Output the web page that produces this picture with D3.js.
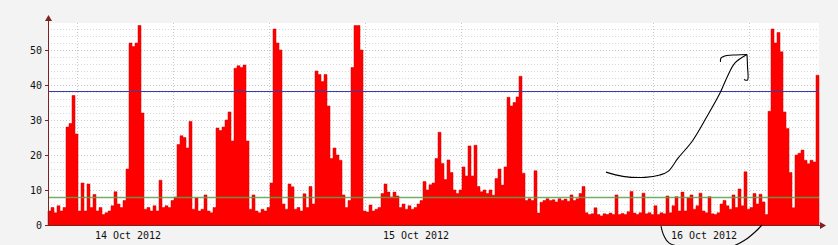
<!DOCTYPE html>
<html lang="en">
  <head>
    <meta charset="UTF-8" />
    <title>Load 14-16 Oct 2012</title>
    <script src="https://d3js.org/d3.v7.min.js"></script>
    <style>
      body { margin: 0; background: #f3f3f3; }
      text { font-family: "DejaVu Sans Mono", monospace; font-size: 10px; fill: #111; }
    </style>
  </head>
  <body>
    <div id="chart"></div>
    <script>
      // samples every 15 minutes starting 13 Oct 2012 17:20
      const startTime = new Date(2012, 9, 13, 17, 20);
      const stepMinutes = 15;
      const load = [
        4, 5, 3.5, 5.5, 4, 5, 28, 29, 37, 26,
        4, 12, 4, 11.7, 5, 8.7, 4, 5, 3, 3.5,
        4, 5.5, 9.5, 6, 5, 7, 16, 52, 51, 52,
        57, 32, 4.5, 5, 4, 5.5, 4, 12.8, 5, 5.5,
        5, 7, 8, 23, 25.5, 25, 22, 29.6, 4.5, 7.7,
        4, 4.5, 8.6, 4, 3.5, 5, 27.7, 27, 28, 30,
        32.3, 24, 44.8, 45.5, 45, 45.7, 24, 4.5, 8.6, 4,
        3.5, 4.5, 4, 5, 12, 56, 52, 50, 6, 4.5,
        11.7, 10.9, 4.5, 5, 4, 8.9, 5, 11, 6, 44,
        43, 41, 43, 34, 19, 22, 20, 18.5, 8.6, 5,
        7, 45, 57, 57, 50, 4, 3.7, 5.7, 4, 4.5,
        5, 9, 11.7, 9.4, 8, 9.4, 8.3, 5, 6, 4.5,
        5.5, 4.5, 5, 6, 7, 12.4, 10, 11.5, 12, 19,
        26.5, 17.6, 13, 18.6, 15, 10, 9, 10, 16.6, 14,
        22.6, 14, 22.8, 11, 9.5, 10, 9, 10, 8.5, 13.3,
        16, 11.4, 16.6, 36.5, 34, 35, 36.6, 42.5, 14.8, 7,
        7.5, 7, 15.5, 3.4, 6.5, 7, 7.5, 7, 7.2, 6.6,
        7.5, 7, 7.4, 6.8, 8.6, 7, 7.5, 9, 11, 3.5,
        3, 3.2, 4.9, 3, 2.6, 3.2, 3, 3.4, 3, 8.6,
        3, 3.3, 3, 3.8, 9.6, 3.4, 3, 3.5, 9.1, 3.2,
        3.5, 3, 5.5, 3, 3.5, 3.2, 8.3, 3.5, 5.5, 8.1,
        4, 9.4, 4, 7.7, 8.6, 4.5, 5.5, 9.1, 4, 3.5,
        8.1, 3.2, 3, 3.5, 6, 7, 5.5, 4.5, 8.6, 5,
        10.3, 5.5, 15.2, 4.5, 5, 9, 6, 8.8, 6.6, 3,
        32.5, 56, 52, 55, 49.5, 32.3, 27.6, 15, 4.9, 20,
        20.5, 21.4, 18.5, 17.5, 18.5, 18, 42.8,
      ];
      const warnLevel = 8.0;
      const critLevel = 38.2;
      const yTicks = [0, 10, 20, 30, 40, 50];
      const dayLabels = ["14 Oct 2012", "15 Oct 2012", "16 Oct 2012"];
      const dayDates = [
        new Date(2012, 9, 14),
        new Date(2012, 9, 15),
        new Date(2012, 9, 16),
      ];
      const firstGrid = new Date(2012, 9, 13, 19, 45);
      const gridHours = 8;

      // hand drawn marks, [hours after start, value]
      const scribbleArrow = [
        [46.5, 15.1], [47.9, 13.9], [49.75, 13.6], [51.0, 14.3], [51.7, 15.4],
        [52.5, 19.1], [53.7, 24.0], [54.9, 30.9], [56.0, 37.7], [56.6, 42.3],
        [57.25, 46.3], [58.25, 48.7],
      ];
      const scribbleHeadLeft = [
        [58.25, 48.7], [57.33, 48.57], [56.58, 48.43], [56.08, 47.7], [56.04, 46.6],
      ];
      const scribbleHeadDown = [
        [58.25, 48.7], [58.29, 45.4], [58.29, 41.4], [58.0, 41.6],
      ];
      const scribbleLoop = [
        [51.08, -0.3], [51.33, -3.1], [51.75, -5.1], [53.5, -6.6], [56.83, -6.3],
        [58.08, -4.3], [58.92, -2.0], [59.5, 0],
      ];

      const W = 838, H = 245;
      const plotLeft = 48, plotRight = 819, plotTop = 23, plotBottom = 225;

      const data = load.map((v, i) => ({
        t: new Date(startTime.getTime() + i * stepMinutes * 60000),
        v: v,
      }));
      const endTime = new Date(startTime.getTime() + load.length * stepMinutes * 60000);
      data.push({ t: endTime, v: load[load.length - 1] });

      const x = d3.scaleTime().domain([startTime, endTime]).range([plotLeft, plotRight]);
      const y = d3.scaleLinear().domain([0, 50]).range([plotBottom, 50]);
      const hx = (h) => x(new Date(startTime.getTime() + h * 3600000));

      const svg = d3
        .select("#chart")
        .append("svg")
        .attr("width", W)
        .attr("height", H);

      svg.append("rect").attr("width", W).attr("height", H).attr("fill", "#f3f3f3");
      svg
        .append("rect")
        .attr("x", plotLeft)
        .attr("y", plotTop)
        .attr("width", plotRight - plotLeft)
        .attr("height", plotBottom - plotTop)
        .attr("fill", "#ffffff");

      // horizontal grid every 2
      const yGrid = d3.range(2, y.invert(plotTop), 2);
      svg
        .append("g")
        .selectAll("line")
        .data(yGrid)
        .join("line")
        .attr("x1", plotLeft)
        .attr("x2", plotRight)
        .attr("y1", (d) => Math.round(y(d)) + 0.5)
        .attr("y2", (d) => Math.round(y(d)) + 0.5)
        .attr("stroke", (d) => (d % 10 === 0 ? "#c8c8c8" : "#d8d8d8"))
        .attr("stroke-dasharray", "1,2");

      // vertical grid every 8 hours
      const xGrid = d3
        .range(0, 9)
        .map((k) => new Date(firstGrid.getTime() + k * gridHours * 3600000))
        .filter((d) => d < endTime);
      svg
        .append("g")
        .selectAll("line")
        .data(xGrid)
        .join("line")
        .attr("x1", (d) => Math.round(x(d)) + 0.5)
        .attr("x2", (d) => Math.round(x(d)) + 0.5)
        .attr("y1", plotTop)
        .attr("y2", plotBottom)
        .attr("stroke", "#c8c8c8")
        .attr("stroke-dasharray", "1,2");

      const area = d3
        .area()
        .curve(d3.curveStepAfter)
        .x((d) => x(d.t))
        .y0(y(0))
        .y1((d) => y(d.v));

      svg
        .append("path")
        .datum(data)
        .attr("fill", "#ff0000")
        .attr("stroke", "#d80000")
        .attr("stroke-width", 0.5)
        .attr("d", area);

      svg
        .append("line")
        .attr("x1", plotLeft)
        .attr("x2", plotRight)
        .attr("y1", Math.round(y(warnLevel)) + 0.5)
        .attr("y2", Math.round(y(warnLevel)) + 0.5)
        .attr("stroke", "#5ca34c")
        .attr("stroke-opacity", 0.85)
        .attr("stroke-width", 1.5);

      svg
        .append("line")
        .attr("x1", plotLeft)
        .attr("x2", plotRight)
        .attr("y1", Math.round(y(critLevel)) + 0.5)
        .attr("y2", Math.round(y(critLevel)) + 0.5)
        .attr("stroke", "#3a3ab4")
        .attr("stroke-width", 1.2);

      // axes
      const axisColor = "#802020";
      svg
        .append("line")
        .attr("x1", plotLeft + 0.5)
        .attr("x2", plotLeft + 0.5)
        .attr("y1", plotBottom)
        .attr("y2", plotTop - 3)
        .attr("stroke", axisColor);
      svg
        .append("path")
        .attr("d", `M${plotLeft - 3},${plotTop - 2}L${plotLeft + 0.5},${plotTop - 8}L${plotLeft + 4},${plotTop - 2}Z`)
        .attr("fill", axisColor);
      svg
        .append("line")
        .attr("x1", plotLeft)
        .attr("x2", plotRight + 3)
        .attr("y1", plotBottom + 0.5)
        .attr("y2", plotBottom + 0.5)
        .attr("stroke", axisColor);
      svg
        .append("path")
        .attr("d", `M${plotRight + 1},${plotBottom - 3}L${plotRight + 7},${plotBottom + 0.5}L${plotRight + 1},${plotBottom + 4}Z`)
        .attr("fill", axisColor);

      svg
        .append("g")
        .selectAll("line")
        .data(yTicks)
        .join("line")
        .attr("x1", plotLeft - 3)
        .attr("x2", plotLeft)
        .attr("y1", (d) => Math.round(y(d)) + 0.5)
        .attr("y2", (d) => Math.round(y(d)) + 0.5)
        .attr("stroke", axisColor);

      svg
        .append("g")
        .selectAll("text")
        .data(yTicks)
        .join("text")
        .attr("x", plotLeft - 6)
        .attr("y", (d) => y(d) + 4)
        .attr("text-anchor", "end")
        .text((d) => d);

      svg
        .append("g")
        .selectAll("text")
        .data(dayDates)
        .join("text")
        .attr("x", (d) => x(d))
        .attr("y", 239)
        .attr("text-anchor", "middle")
        .text((d, i) => dayLabels[i]);

      // scribbles on top
      const pen = d3
        .line()
        .curve(d3.curveCatmullRom)
        .x((d) => hx(d[0]))
        .y((d) => y(d[1]));
      [scribbleArrow, scribbleHeadLeft, scribbleHeadDown, scribbleLoop].forEach(function (pts) {
        svg
          .append("path")
          .attr("d", pen(pts))
          .attr("fill", "none")
          .attr("stroke", "#000")
          .attr("stroke-width", 1.1);
      });
    </script>
  </body>
</html>
